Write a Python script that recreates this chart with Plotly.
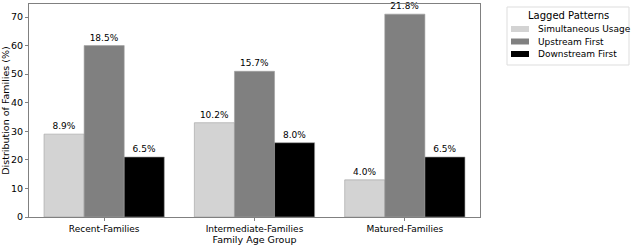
import plotly.graph_objects as go

categories = ["Recent-Families", "Intermediate-Families", "Matured-Families"]
series_names = ["Simultaneous Usage", "Upstream First", "Downstream First"]
simultaneous = [29, 33, 13]
upstream = [60, 51, 71]
downstream = [21, 26, 21]
simultaneous_labels = ["8.9%", "10.2%", "4.0%"]
upstream_labels = ["18.5%", "15.7%", "21.8%"]
downstream_labels = ["6.5%", "8.0%", "6.5%"]
colors = ["#d3d3d3", "#808080", "#000000"]
legend_title = "Lagged Patterns"

FONT = "DejaVu Sans"
W, H = 634, 245
L, R, T, B = 29, 154, 4, 28
PW, PH = W - L - R, H - T - B


def px(xp):
    return (xp - L) / PW


def py(yp):
    return (H - B - yp) / PH


fig = go.Figure()
for name, vals, labs, col in zip(series_names,
                                 [simultaneous, upstream, downstream],
                                 [simultaneous_labels, upstream_labels, downstream_labels],
                                 colors):
    fig.add_trace(go.Bar(
        x=categories, y=vals, name=name, text=labs,
        textposition="outside", constraintext="none", cliponaxis=False,
        textfont=dict(family=FONT, size=9, color="black"),
        marker=dict(color=col, line=dict(color="#a0a0a0", width=0.6)),
        showlegend=False, hoverinfo="skip",
    ))

# manual legend (matplotlib-like compact layout)
shapes = [dict(type="rect", xref="paper", yref="paper",
               x0=px(507), x1=px(629), y0=py(65), y1=py(7),
               line=dict(color="#dddddd", width=1), fillcolor="white", layer="above")]
annotations = [dict(text=legend_title, xref="paper", yref="paper",
                    x=px(568), y=py(15.5), xanchor="center", yanchor="middle",
                    showarrow=False, font=dict(family=FONT, size=10, color="black"))]
item_y = [29, 41.5, 54]
for name, col, yy in zip(series_names, colors, item_y):
    shapes.append(dict(type="rect", xref="paper", yref="paper",
                       x0=px(511), x1=px(529), y0=py(yy + 3), y1=py(yy - 3),
                       line=dict(width=0), fillcolor=col, layer="above"))
    annotations.append(dict(text=name, xref="paper", yref="paper",
                            x=px(536), y=py(yy), xanchor="left", yanchor="middle",
                            showarrow=False, font=dict(family=FONT, size=9, color="black")))

fig.update_layout(
    width=W, height=H,
    margin=dict(l=L, r=R, t=T, b=B, autoexpand=False),
    barmode="group", bargap=0.2, bargroupgap=0,
    plot_bgcolor="white", paper_bgcolor="white",
    font=dict(family=FONT, size=10, color="black"),
    showlegend=False,
    shapes=shapes, annotations=annotations,
)
fig.update_xaxes(
    title=dict(text="Family Age Group", font=dict(family=FONT, size=9.5), standoff=1),
    automargin=False,
    range=[-0.5, 2.5], showline=True, mirror=True, linecolor="#808080", linewidth=1,
    ticks="outside", ticklen=3, tickcolor="#808080", tickfont=dict(size=9),
)
fig.update_yaxes(
    title=dict(text="Distribution of Families (%)", font=dict(family=FONT, size=9.5), standoff=0),
    automargin=False,
    range=[0, 74.55], dtick=10, showline=True, mirror=True, linecolor="#808080", linewidth=1,
    ticks="outside", ticklen=3, tickcolor="#808080", showgrid=False, zeroline=False,
    tickfont=dict(size=9.5),
)
fig.write_html("out.html", config={"displayModeBar": False},
               post_script="document.body.style.margin='0px';")
